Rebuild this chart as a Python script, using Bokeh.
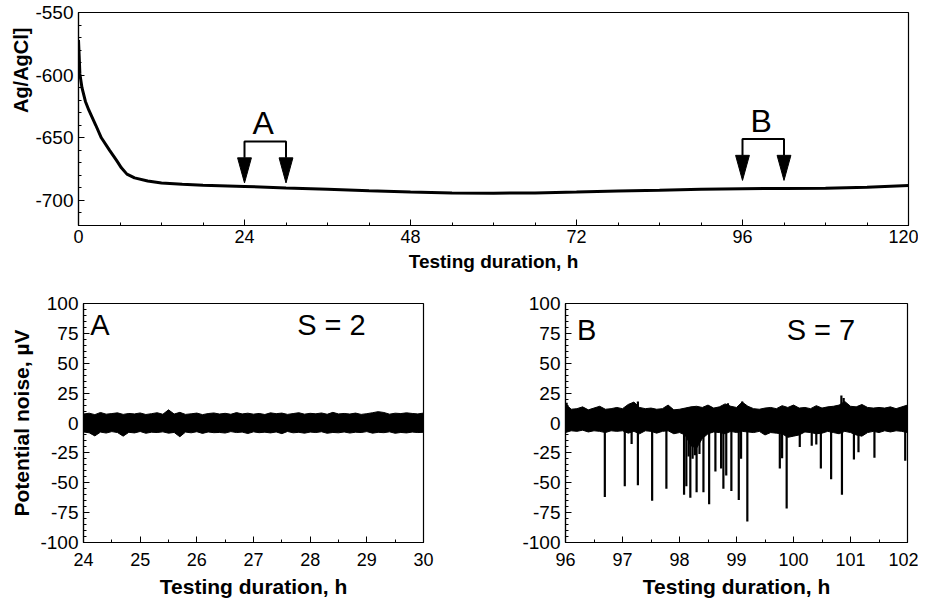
import numpy as np
from bokeh.plotting import figure
from bokeh.layouts import column, row
from bokeh.models import FixedTicker, Label, Range1d, Title, CustomJSTickFormatter
from bokeh.embed import file_html
from bokeh.resources import INLINE

FONT = "Liberation Sans"

# ---------------- top panel: open-circuit potential vs time ----------------
top_t = [0, 0.1, 0.2, 0.5, 1.0, 1.5, 2.5, 3.3, 4.5, 5.5, 6.2, 7.0, 8.1, 10, 12, 15,
         18, 24, 30, 36, 42, 48, 54, 60, 66, 72, 78, 84, 90, 96, 102, 108, 114, 120]
top_e = [-572, -585, -599, -610, -621, -628, -640, -650, -660, -668, -674, -679, -682,
         -684.5, -686, -687, -687.8, -688.8, -690, -691, -692.2, -693.2, -694, -694.2,
         -694, -693.3, -692.5, -691.8, -691, -690.6, -690.5, -690.3, -689.5, -688]
top_x_ticks = [0, 24, 48, 72, 96, 120]
top_y_ticks = [-700, -650, -600, -550]

win_names = ["A", "B"]
win_start = [24, 96]
win_end = [30, 102]
bracket_level = [-653, -651]
arrow_tip = [-686, -684]

# ---------------- window A (24-30 h) ----------------
a_t = np.round(np.arange(24.0, 30.0001, 0.1), 1)
a_hi = [7.5, 8.2, 7.0, 8.8, 7.4, 7.9, 8.5, 7.2, 8.0, 7.6, 8.4, 7.1, 7.8, 8.6, 7.3, 11.0, 7.5, 8.9, 7.2, 7.7,
        8.3, 7.0, 7.9, 8.4, 7.5, 8.1, 7.3, 8.7, 7.6, 8.2, 7.4, 8.0, 7.1, 8.5, 7.8, 8.3, 7.2, 7.9, 8.6, 7.4,
        8.1, 7.7, 8.4, 7.3, 8.9, 7.6, 8.0, 7.5, 8.3, 7.2, 7.8, 8.6, 9.5, 8.8, 7.4, 8.2, 7.9, 8.5, 8.0, 7.6, 8.3]
a_lo = [-7.5, -8.2, -10.8, -7.6, -8.4, -7.2, -8.0, -11.0, -7.8, -8.3,
        -7.1, -8.6, -7.7, -8.0, -7.4, -8.5, -7.9, -11.5, -7.6, -8.2,
        -7.3, -8.7, -7.5, -8.1, -7.9, -8.4, -7.2, -8.0, -7.6, -8.8,
        -7.4, -8.1, -7.7, -8.3, -7.5, -8.9, -7.1, -8.2, -7.8, -8.5,
        -7.6, -8.0, -7.3, -8.6, -7.9, -8.2, -7.5, -8.4, -7.7, -8.0,
        -7.2, -8.5, -7.8, -8.1, -7.4, -8.6, -7.9, -8.3, -7.6, -8.0, -7.8]

# ---------------- window B (96-102 h) ----------------
b_t = np.round(np.arange(96.0, 102.0001, 0.1), 1)
b_hi = [16, 11.5, 12, 13.5, 11, 12.5, 14, 11.5, 12, 13,
        12, 15.5, 17.5, 13, 12, 12.5, 11.5, 12, 15, 11,
        11.5, 12.5, 13.5, 14, 13, 15, 12.5, 13.5, 16, 14,
        13, 17.5, 14, 12, 11.5, 12.5, 13, 12, 14.5, 13,
        15, 12.5, 13, 12, 14.5, 12.5, 13.5, 14, 15, 18,
        14, 13.5, 15.5, 13, 12.5, 13, 12.5, 13.5, 12, 13.5, 15]
b_lo = [-8, -6.5, -7, -6, -7.5, -6.5, -7, -8, -6.5, -7,
        -6.5, -8.5, -7, -9, -6.5, -7, -8.5, -7, -6.5, -9,
        -8, -10, -19, -21, -13, -9, -7.5, -8, -9, -7,
        -8, -7, -7.5, -8, -7, -10, -8, -8.5, -9, -12,
        -11, -10, -7.5, -8, -9, -8.5, -7, -8, -9, -7,
        -8, -10, -11, -8, -7, -8, -6.5, -7.5, -6.5, -7, -8]
b_spike_t = [96.69, 97.04, 97.16, 97.27, 97.52, 97.77, 98.08, 98.12, 98.16, 98.19, 98.23,
             98.27, 98.30, 98.35, 98.42, 98.52, 98.63, 98.73, 98.77, 98.82, 98.91, 99.04,
             99.08, 99.19, 99.76, 99.80, 99.88, 100.11, 100.32, 100.40, 100.48, 100.66,
             100.85, 101.06, 101.14, 101.42, 101.96]
b_spike_min = [-62, -53, -17.5, -52, -65, -55, -60, -53, -28, -62.5, -30,
               -27, -58, -26, -58, -68, -40.5, -38, -55, -44, -57, -64.5,
               -30, -82.5, -38, -29.5, -71.5, -20, -19, -18, -38, -47,
               -60, -30.5, -24.5, -29, -31.5]
b_up_t = [96.02, 97.27, 98.85, 99.10, 100.84, 100.88]
b_up_max = [17, 18, 16.5, 18, 23, 21]

bottom_y_ticks = [-100, -75, -50, -25, 0, 25, 50, 75, 100]

tick_fmt_code = "return tick.toString();"


def style(p, xt, xminor, yt, yminor, xtick_px, ytick_px, title_px):
    p.grid.visible = False
    p.outline_line_color = "black"
    p.outline_line_width = 1.2
    p.background_fill_color = "white"
    p.border_fill_color = "white"
    p.xaxis.ticker = FixedTicker(ticks=xt, minor_ticks=xminor)
    p.yaxis.ticker = FixedTicker(ticks=yt, minor_ticks=yminor)
    p.xaxis.formatter = CustomJSTickFormatter(code=tick_fmt_code)
    p.yaxis.formatter = CustomJSTickFormatter(code=tick_fmt_code)
    for ax, tpx in ((p.xaxis[0], xtick_px), (p.yaxis[0], ytick_px)):
        ax.axis_line_color = "black"
        ax.axis_line_width = 1.2
        ax.major_tick_line_color = "black"
        ax.minor_tick_line_color = "black"
        ax.major_tick_in = 6
        ax.major_tick_out = 0
        ax.minor_tick_in = 3
        ax.minor_tick_out = 0
        ax.major_label_text_font = FONT
        ax.major_label_text_font_size = tpx
        ax.major_label_text_color = "black"
        ax.axis_label_text_font = FONT
        ax.axis_label_text_font_style = "bold"
        ax.axis_label_text_font_size = title_px
        ax.axis_label_text_color = "black"
    p.yaxis.major_label_standoff = 5


# ---------------- top figure ----------------
top = figure(width=918, height=280, output_backend="svg", toolbar_location=None,
             x_range=Range1d(0, 120), y_range=Range1d(-720, -550),
             min_border_left=78, min_border_right=10, min_border_top=12, min_border_bottom=55)
style(top, top_x_ticks, list(range(0, 121, 6)), top_y_ticks, list(range(-720, -549, 10)),
      "18px", "19px", "19px")
top.xaxis.axis_label = "Testing duration, h"
top.xaxis.major_label_standoff = 4
top.xaxis.axis_label_standoff = 5
top.line(top_t, top_e, line_color="black", line_width=3)

head_half = 1.0   # h
head_len = 20.0   # mV
for name, s, e, lvl, tip in zip(win_names, win_start, win_end, bracket_level, arrow_tip):
    htop = tip + head_len
    top.line([s, s, e, e], [htop, lvl, lvl, htop], line_color="black", line_width=2)
    top.patches([[s - head_half, s + head_half, s], [e - head_half, e + head_half, e]],
                [[htop, htop, tip], [htop, htop, tip]], fill_color="black", line_color="black")
    top.add_layout(Label(x=(s + e) / 2 - 0.3, y=lvl + 14.5, text=name, text_align="center",
                         text_baseline="alphabetic", text_font=FONT, text_font_size="32px",
                         text_color="black"))

top.add_layout(Title(text="Ag/AgCl]", align="right", offset=15, standoff=2,
                     text_font=FONT, text_font_style="bold", text_font_size="20px",
                     text_color="black"), "left")

# ---------------- bottom-left figure ----------------
bl = figure(width=470, height=320, output_backend="svg", toolbar_location=None,
            x_range=Range1d(24, 30), y_range=Range1d(-100, 100),
            min_border_left=83, min_border_right=47, min_border_top=23, min_border_bottom=56)
style(bl, [24, 25, 26, 27, 28, 29, 30], [24 + 0.5 * i for i in range(13)],
      bottom_y_ticks, list(range(-100, 101, 5)), "18px", "19px", "21px")
bl.xaxis.axis_label = "Testing duration, h"
bl.yaxis.axis_label = "Potential noise, µV"
bl.xaxis.major_label_standoff = 10
bl.xaxis.axis_label_standoff = 6
bl.yaxis.axis_label_standoff = 4
bl.varea(x=a_t, y1=a_lo, y2=a_hi, fill_color="black")
bl.line(a_t, a_hi, line_color="black", line_width=1)
bl.line(a_t, a_lo, line_color="black", line_width=1)
bl.add_layout(Label(x=24.12, y=82, text="A", text_font=FONT, text_font_size="29px",
                    text_baseline="alphabetic", text_color="black"))
bl.add_layout(Label(x=27.77, y=82, text="S = 2", text_font=FONT, text_font_size="29px",
                    text_baseline="alphabetic", text_color="black"))

# ---------------- bottom-right figure ----------------
br = figure(width=448, height=320, output_backend="svg", toolbar_location=None,
            x_range=Range1d(96, 102), y_range=Range1d(-100, 100),
            min_border_left=95, min_border_right=11, min_border_top=23, min_border_bottom=56)
style(br, [96, 97, 98, 99, 100, 101, 102], [96 + 0.5 * i for i in range(13)],
      bottom_y_ticks, list(range(-100, 101, 5)), "18px", "19px", "21px")
br.xaxis.axis_label = "Testing duration, h"
br.xaxis.major_label_standoff = 10
br.xaxis.axis_label_standoff = 6
br.varea(x=b_t, y1=b_lo, y2=b_hi, fill_color="black")
br.line(b_t, b_hi, line_color="black", line_width=1)
br.line(b_t, b_lo, line_color="black", line_width=1)
br.segment(x0=b_spike_t, y0=[0] * len(b_spike_t), x1=b_spike_t, y1=b_spike_min,
           line_color="black", line_width=2.2)
br.segment(x0=b_up_t, y0=[0] * len(b_up_t), x1=b_up_t, y1=b_up_max,
           line_color="black", line_width=2.2)
br.add_layout(Label(x=96.2, y=78, text="B", text_font=FONT, text_font_size="29px",
                    text_baseline="alphabetic", text_color="black"))
br.add_layout(Label(x=99.88, y=78, text="S = 7", text_font=FONT, text_font_size="29px",
                    text_baseline="alphabetic", text_color="black"))

layout = column(top, row(bl, br))
open("out.html", "w").write(file_html(layout, INLINE))
